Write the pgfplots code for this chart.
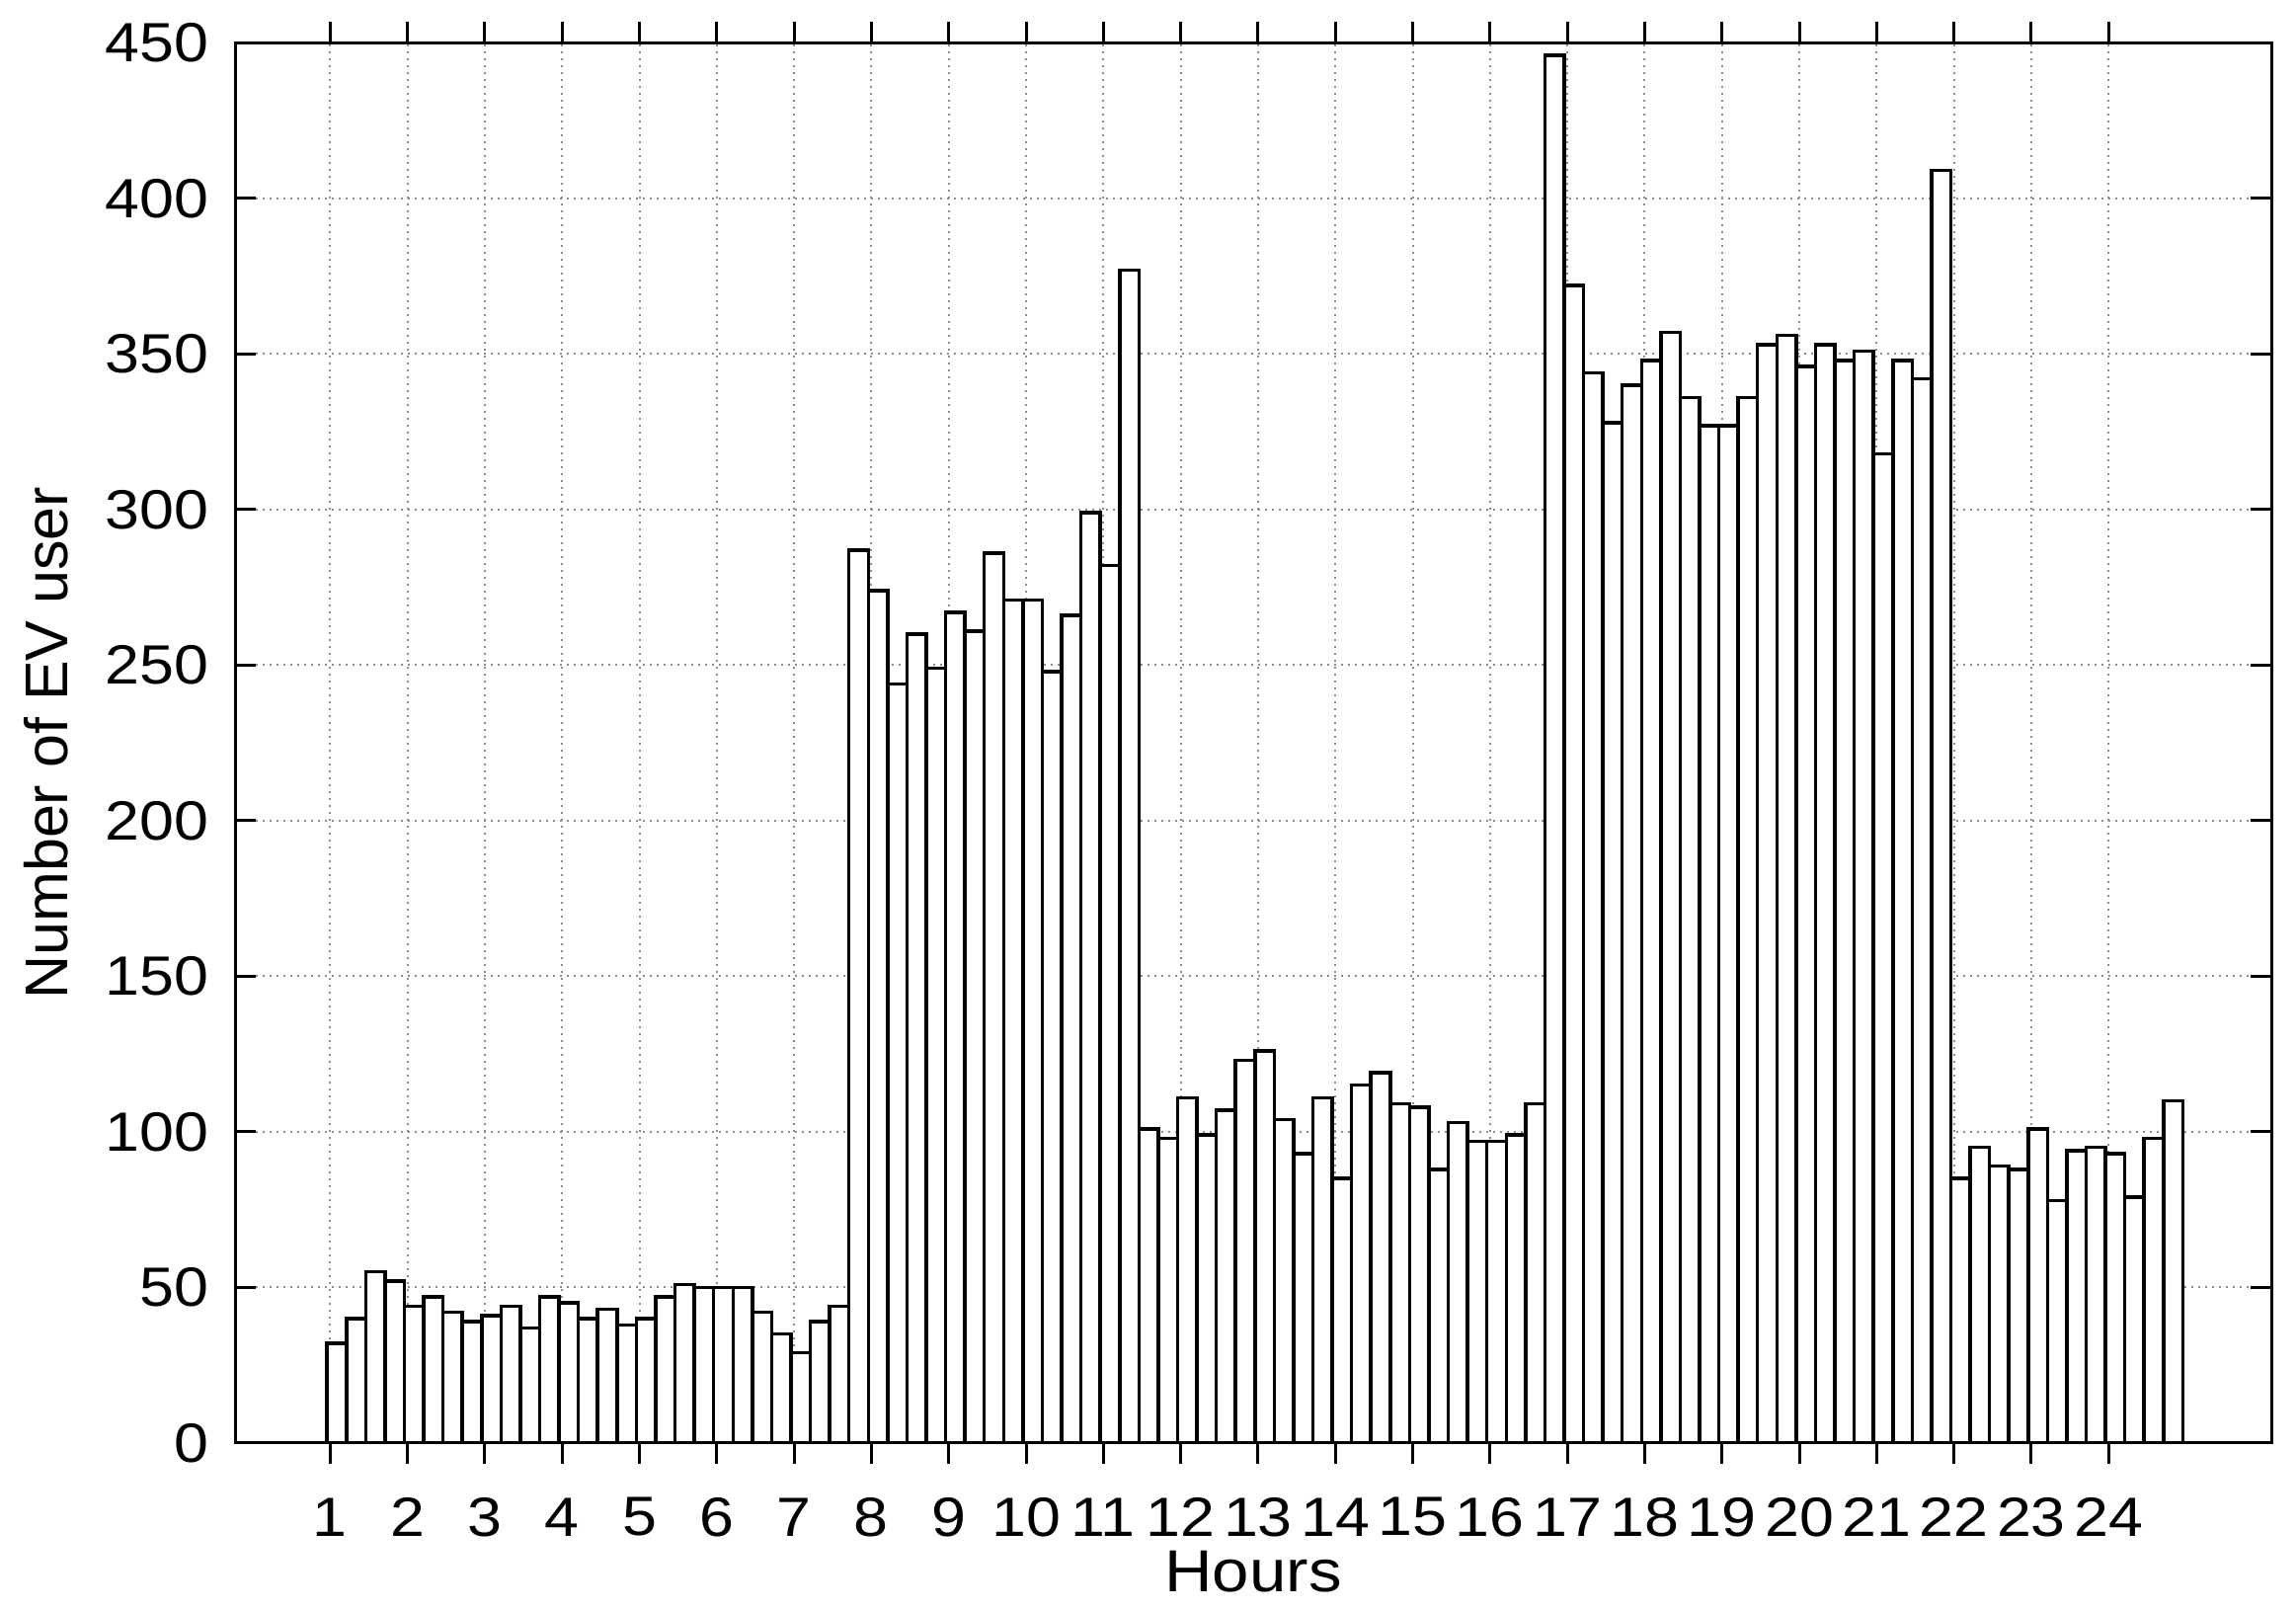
\documentclass[border=0pt]{standalone}
\usepackage{fontspec}
\setmainfont{Liberation Sans}[FakeStretch=1.12]
\newfontfamily\ylabfont{Liberation Sans}
\usepackage{pgfplots}
\pgfplotsset{compat=1.18}
\pgfplotsset{
  layers/bars under ticks/.define layer set={axis background,axis grid,main,axis ticks,axis lines,axis tick labels,axis descriptions,axis foreground}{},
}

\begin{document}
\begin{tikzpicture}
\begin{axis}[
  set layers=bars under ticks,
  at={(47.6pt,33.8pt)}, anchor=south west,
  scale only axis, width=412.4pt, height=283.5pt,
  xmin=-4.26, xmax=101.08, ymin=0, ymax=450,
  xtick={0.66,4.66,...,92.66},
  xticklabels={1,2,3,4,5,6,7,8,9,10,11,12,13,14,15,16,17,18,19,20,21,22,23,24},
  ytick={0,50,...,450},
  grid=major,
  major grid style={densely dotted, line width=0.4pt, black!45},
  tick align=inside, major tick length=4.2pt,
  tick style={black, line width=0.6pt},
  axis line style={line width=0.6pt},
  /pgf/number format/assume math mode=true,
  tick label style={font=\fontsize{11.2}{13.4}\selectfont},
  xticklabel style={anchor=center, yshift=-10.8pt},
  yticklabel style={anchor=east, inner sep=0pt, xshift=-5.2pt},
  every axis x label/.style={at={(axis description cs:0.5,0)}, anchor=center, yshift=-26.1pt, font=\fontsize{12}{14}\selectfont},
  every axis y label/.style={at={(axis description cs:0,0.5)}, rotate=90, anchor=center, yshift=38.2pt, font=\ylabfont\fontsize{12.2}{14}\selectfont},
  xlabel={Hours}, ylabel={Number of EV user},
  ybar, bar width=1, bar shift=0pt,
]
\addplot[draw=black, fill=white, line width=0.7pt] coordinates {
(1,32) (2,40) (3,55) (4,52) (5,44) (6,47) (7,42) (8,39)
(9,41) (10,44) (11,37) (12,47) (13,45) (14,40) (15,43) (16,38)
(17,40) (18,47) (19,51) (20,50) (21,50) (22,50) (23,42) (24,35)
(25,29) (26,39) (27,44) (28,287) (29,274) (30,244) (31,260) (32,249)
(33,267) (34,261) (35,286) (36,271) (37,271) (38,248) (39,266) (40,299)
(41,282) (42,377) (43,101) (44,98) (45,111) (46,99) (47,107) (48,123)
(49,126) (50,104) (51,93) (52,111) (53,85) (54,115) (55,119) (56,109)
(57,108) (58,88) (59,103) (60,97) (61,97) (62,99) (63,109) (64,446)
(65,372) (66,344) (67,328) (68,340) (69,348) (70,357) (71,336) (72,327)
(73,327) (74,336) (75,353) (76,356) (77,346) (78,353) (79,348) (80,351)
(81,318) (82,348) (83,342) (84,409) (85,85) (86,95) (87,89) (88,88)
(89,101) (90,78) (91,94) (92,95) (93,93) (94,79) (95,98) (96,110)
};
\end{axis}
\path (0pt,0pt) rectangle (465pt,326pt);
\end{tikzpicture}
\end{document}
